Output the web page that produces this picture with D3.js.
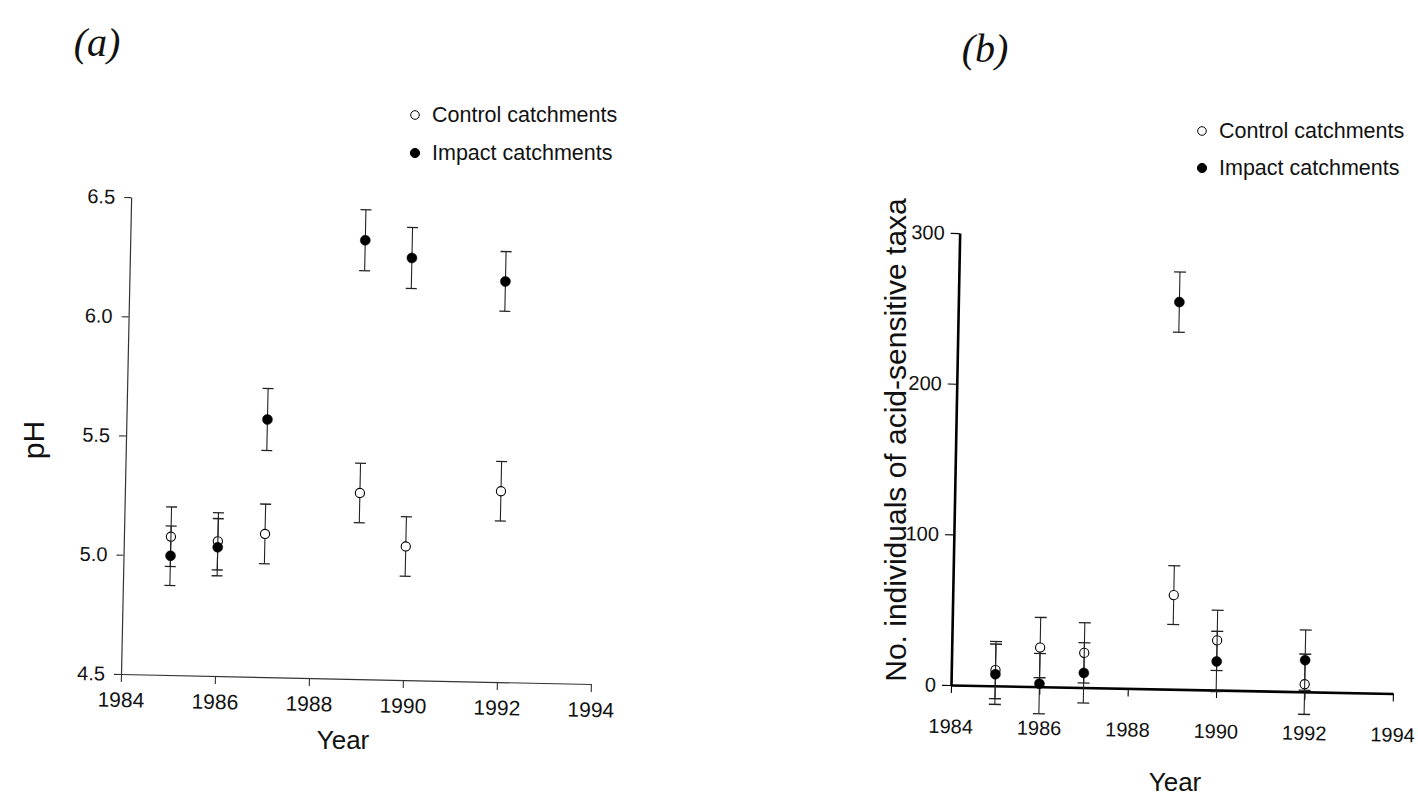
<!DOCTYPE html>
<html>
<head>
<meta charset="utf-8">
<script src="https://cdn.jsdelivr.net/npm/d3@7"></script>
<style>
  html, body { margin: 0; padding: 0; background: #fff; }
  svg { display: block; }
  text { font-family: "Liberation Sans", Arial, sans-serif; fill: #111; }
</style>
</head>
<body>
<svg id="chart" width="1418" height="798"></svg>
<script>
// ---------- data ----------
const years = [1985, 1986, 1987, 1989, 1990, 1992];
const yearTicks = [1984, 1986, 1988, 1990, 1992, 1994];

// panel (a): pH
const phControl    = [5.08, 5.065, 5.10, 5.28, 5.06, 5.30];
const phControlErr = [0.125, 0.12, 0.125, 0.125, 0.125, 0.125];
const phImpact     = [5.00, 5.04, 5.58, 6.34, 6.27, 6.18];
const phImpactErr  = [0.125, 0.12, 0.13, 0.128, 0.128, 0.125];
const phTicks = [4.5, 5.0, 5.5, 6.0, 6.5];

// panel (b): no. individuals of acid-sensitive taxa
const taxaControl    = [10.5, 26, 23, 62.5, 33, 5];
const taxaControlErr = [19, 20, 20, 19.5, 20, 20];
const taxaImpact     = [7.7, 2, 9.7, 257, 19, 21];
const taxaImpactErr  = [20, 20, 20, 20, 20, 20];
const taxaTicks = [0, 100, 200, 300];

const legendLabels = ["Control catchments", "Impact catchments"];

// ---------- drawing ----------
const svg = d3.select("#chart");

function drawPanel(cfg) {
  const W = cfg.width, H = cfg.height;
  const g = svg.append("g")
    .attr("transform", `translate(${cfg.ox},${cfg.oy}) rotate(${cfg.angle}) translate(0,${-H})`);

  const x = d3.scaleLinear().domain([1984, 1994]).range([0, W]);
  const y = d3.scaleLinear().domain(cfg.yDomain).range([H, 0]);

  const xAxis = g.append("g").attr("transform", `translate(0,${H})`)
    .call(d3.axisBottom(x).tickValues(yearTicks).tickFormat(d3.format("d"))
      .tickSizeInner(8).tickSizeOuter(0).tickPadding(cfg.xPad));
  const yAxis = g.append("g")
    .call(d3.axisLeft(y).tickValues(cfg.yTicks).tickFormat(cfg.yFmt)
      .tickSizeInner(cfg.yTick).tickSizeOuter(0).tickPadding(cfg.yPad));

  [xAxis, yAxis].forEach(a => {
    a.attr("font-family", null).attr("font-size", null);
    a.select(".domain").attr("stroke", cfg.axisColor).attr("stroke-width", cfg.axisWidth);
    a.selectAll(".tick line").attr("stroke", cfg.axisColor).attr("stroke-width", 1.1);
    a.selectAll(".tick text").attr("fill", "#111")
      .style("font-family", "'Liberation Sans', Arial, sans-serif");
  });
  xAxis.selectAll(".tick text").style("font-size", cfg.xFont + "px");
  yAxis.selectAll(".tick text").style("font-size", cfg.yFont + "px");

  const series = [
    { vals: cfg.control, errs: cfg.controlErr, filled: false },
    { vals: cfg.impact,  errs: cfg.impactErr,  filled: true }
  ];
  const capW = cfg.capW;
  series.forEach(s => {
    const pts = years.map((yr, i) => ({ yr, v: s.vals[i], e: s.errs[i] }));
    const eg = g.append("g");
    eg.selectAll("line.v").data(pts).join("line")
      .attr("x1", d => x(d.yr)).attr("x2", d => x(d.yr))
      .attr("y1", d => y(d.v + d.e)).attr("y2", d => y(d.v - d.e))
      .attr("stroke", "#222").attr("stroke-width", 1.1);
    eg.selectAll("line.t").data(pts).join("line")
      .attr("x1", d => x(d.yr) - capW / 2).attr("x2", d => x(d.yr) + capW / 2)
      .attr("y1", d => y(d.v + d.e)).attr("y2", d => y(d.v + d.e))
      .attr("stroke", "#222").attr("stroke-width", 1.3);
    eg.selectAll("line.b").data(pts).join("line")
      .attr("x1", d => x(d.yr) - capW / 2).attr("x2", d => x(d.yr) + capW / 2)
      .attr("y1", d => y(d.v - d.e)).attr("y2", d => y(d.v - d.e))
      .attr("stroke", "#222").attr("stroke-width", 1.3);
    eg.selectAll("circle").data(pts).join("circle")
      .attr("cx", d => x(d.yr)).attr("cy", d => y(d.v))
      .attr("r", s.filled ? 5 : 4.6)
      .attr("fill", s.filled ? "#000" : "#fff")
      .attr("stroke", "#000").attr("stroke-width", s.filled ? 0.5 : 1.1);
  });

  // axis titles
  svg.append("text").attr("x", cfg.xTitle[0]).attr("y", cfg.xTitle[1])
    .attr("text-anchor", "middle").style("font-size", cfg.titleFont + "px").text("Year");
  svg.append("text")
    .attr("transform", `translate(${cfg.yTitle[0]},${cfg.yTitle[1]}) rotate(-90)`)
    .attr("text-anchor", "middle").attr("dominant-baseline", "central")
    .style("font-size", cfg.yTitleFont + "px").text(cfg.yTitleText);

  // panel label
  svg.append("text").attr("x", cfg.label[0]).attr("y", cfg.label[1])
    .attr("text-anchor", "middle")
    .style("font-family", "'Liberation Serif', 'Times New Roman', serif")
    .style("font-style", "italic").style("font-size", "40px").text(cfg.labelText);

  // legend
  const lg = svg.append("g").attr("transform", `translate(${cfg.legend[0]},${cfg.legend[1]})`);
  legendLabels.forEach((lab, i) => {
    const row = lg.append("g").attr("transform", `translate(0,${i * cfg.legendGap})`);
    row.append("circle").attr("cx", 0).attr("cy", 0).attr("r", i === 0 ? 4.3 : 4.6)
      .attr("fill", i === 0 ? "#fff" : "#000").attr("stroke", "#000").attr("stroke-width", 1);
    row.append("text").attr("x", 17).attr("y", 0).attr("dominant-baseline", "central")
      .style("font-size", cfg.legendFont + "px").text(lab);
  });
}

drawPanel({
  ox: 121, oy: 674, angle: 1.22, width: 470, height: 477,
  yDomain: [4.5, 6.5], yTicks: phTicks, yFmt: d3.format(".1f"),
  control: phControl, controlErr: phControlErr, impact: phImpact, impactErr: phImpactErr,
  axisColor: "#333", axisWidth: 1.2, yTick: 7, yPad: 9, xPad: 10,
  xFont: 21, yFont: 20, capW: 11,
  xTitle: [343, 749], titleFont: 26,
  yTitle: [33, 440], yTitleFont: 30, yTitleText: "pH",
  label: [97, 56], labelText: "(a)",
  legend: [415, 115], legendGap: 38, legendFont: 21.5
});

drawPanel({
  ox: 951, oy: 685, angle: 1.1, width: 442, height: 452,
  yDomain: [0, 300], yTicks: taxaTicks, yFmt: d3.format("d"),
  control: taxaControl, controlErr: taxaControlErr, impact: taxaImpact, impactErr: taxaImpactErr,
  axisColor: "#000", axisWidth: 2.6, yTick: 9, yPad: 6, xPad: 26,
  xFont: 20, yFont: 20, capW: 12,
  xTitle: [1175, 791], titleFont: 26,
  yTitle: [895, 440], yTitleFont: 30, yTitleText: "No. individuals of acid-sensitive taxa",
  label: [985, 62], labelText: "(b)",
  legend: [1202, 131], legendGap: 37, legendFont: 21.5
});
</script>
</body>
</html>
